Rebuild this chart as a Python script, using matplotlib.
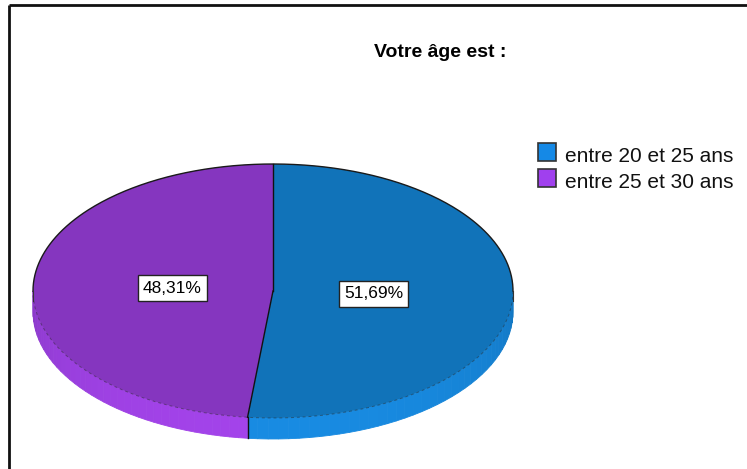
import numpy as np
import matplotlib.pyplot as plt
from matplotlib.patches import Polygon, Rectangle
from matplotlib.colors import to_rgb

plt.rcParams['font.family'] = ['Liberation Sans', 'DejaVu Sans']

# donnees du graphique
title = "Votre âge est :"
categories = ["entre 20 et 25 ans", "entre 25 et 30 ans"]
percents = [51.69, 48.31]
top_colors = ["#1173B9", "#8536BF"]
side_dark = ["#1274BD", "#8838C6"]
side_light = ["#188BE2", "#A343EA"]
legend_colors = ["#1589E6", "#A040EE"]

W, H = 747, 469
fig = plt.figure(figsize=(W / 100, H / 100), dpi=100)
ax = fig.add_axes([0, 0, 1, 1])
ax.set_xlim(0, W)
ax.set_ylim(H, 0)
ax.axis('off')

# cadre (haut + gauche)
ax.plot([9, W], [5, 5], color='#111111', lw=2, solid_capstyle='butt')
ax.plot([9, 9], [5, H], color='#111111', lw=2, solid_capstyle='butt')

# geometrie du camembert 3D
cx, cy, a, b, depth = 273, 291, 240, 127, 21


def ell(theta, dy=0.0):
    t = np.radians(theta)
    return cx + a * np.sin(t), cy - b * np.cos(t) + dy


def mix(c1, c2, f):
    c1, c2 = np.array(to_rgb(c1)), np.array(to_rgb(c2))
    return tuple(c1 + (c2 - c1) * f)


bounds = np.concatenate([[0], np.cumsum(percents) / sum(percents) * 360])

# faces laterales (partie avant seulement)
for i in range(len(percents)):
    s, e = max(bounds[i], 90), min(bounds[i + 1], 270)
    if e <= s:
        continue
    edges = np.linspace(s, e, 40)
    for t0, t1 in zip(edges[:-1], edges[1:]):
        f = -np.cos(np.radians((t0 + t1) / 2))
        col = mix(side_dark[i], side_light[i], max(f, 0) ** 0.7)
        x0, y0 = ell(t0)
        x1, y1 = ell(t1)
        ax.add_patch(Polygon([(x0, y0), (x1, y1), (x1, y1 + depth), (x0, y0 + depth)],
                             closed=True, facecolor=col, edgecolor=col, lw=0.6))

# faces superieures
for i in range(len(percents)):
    ts = np.linspace(bounds[i], bounds[i + 1], 200)
    xs, ys = ell(ts)
    pts = [(cx, cy)] + list(zip(xs, ys))
    ax.add_patch(Polygon(pts, closed=True, facecolor=top_colors[i],
                         edgecolor='none'))

# contours
ts = np.linspace(-90, 90, 300)
xs, ys = ell(ts)
ax.plot(xs, ys, color='#1a1a1a', lw=1.0)
ts = np.linspace(90, 270, 300)
xs, ys = ell(ts)
ax.plot(xs, ys, color='#222222', lw=0.7, ls=(0, (3, 3)), alpha=0.45)
for t in bounds[:-1]:
    x, y = ell(t)
    ax.plot([cx, x], [cy, y], color='#111111', lw=1.0)
    if 90 <= t <= 270:
        ax.plot([x, x], [y, y + depth], color='#111111', lw=1.0)
for t in (90, 270):
    x, y = ell(t)
    ax.plot([x, x], [y, y + depth * 0.5], color='#333333', lw=0.8)

# etiquettes de pourcentage
for i, p in enumerate(percents):
    mid = (bounds[i] + bounds[i + 1]) / 2
    t = np.radians(mid)
    lx, ly = cx + 0.42 * a * np.sin(t), cy - 0.42 * b * np.cos(t)
    ax.text(lx, ly, f"{p:.2f}".replace(".", ",") + "%", fontsize=12.5,
            ha='center', va='center', color='black',
            bbox=dict(boxstyle='square,pad=0.3', facecolor='white',
                      edgecolor='#222222', lw=1.0))

# titre
ax.text(440, 57, title, fontsize=14, fontweight='bold', ha='center',
        va='baseline', color='black')

# legende
for i, lab in enumerate(categories):
    top = 143 + i * 26
    ax.add_patch(Rectangle((538, top), 18, 18, facecolor=legend_colors[i],
                           edgecolor='#333333', lw=1.2))
    ax.text(565, top + 19, lab, fontsize=15, ha='left', va='baseline',
            color='#111111')

plt.savefig("out.png", dpi=100)
